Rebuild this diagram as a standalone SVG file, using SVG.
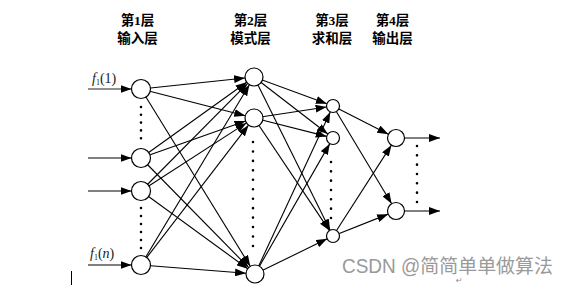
<svg xmlns="http://www.w3.org/2000/svg" width="568" height="286" viewBox="0 0 568 286">
<defs>
<marker id="ah" markerUnits="userSpaceOnUse" markerWidth="11" markerHeight="8" refX="11" refY="4" orient="auto">
<path d="M0,0 L11,4 L0,8 z" fill="#000"/>
</marker>
<style>
.hd{font-family:"Liberation Serif","Noto Sans CJK SC",serif;font-size:13.5px;font-weight:bold;fill:#000;text-anchor:middle}
.cn line{stroke:#000;stroke-width:1.1;marker-end:url(#ah)}
.nd{fill:#fff;stroke:#000;stroke-width:1.2}
.dots{stroke:#000;stroke-width:2.6;stroke-linecap:round}
.lbl{font-family:"Liberation Serif",serif;font-size:14px;fill:#1a1a1a}
</style>
</defs>
<rect width="568" height="286" fill="#fff"/>
<g id="headers">
<text class="hd" x="137.5" y="25">第1层</text>
<text class="hd" x="137.5" y="43">输入层</text>
<text class="hd" x="250.5" y="25">第2层</text>
<text class="hd" x="250.5" y="43">模式层</text>
<text class="hd" x="332" y="25">第3层</text>
<text class="hd" x="332" y="43">求和层</text>
<text class="hd" x="392.5" y="25">第4层</text>
<text class="hd" x="392.5" y="43">输出层</text>
</g>
<g id="connectors" class="cn">
<line x1="88" y1="89" x2="131.5" y2="89" style="stroke:#6a6a6a;stroke-width:1.6"/>
<line x1="88" y1="158" x2="131.5" y2="158"/>
<line x1="88" y1="191" x2="131.5" y2="191"/>
<line x1="88" y1="265" x2="131.5" y2="265"/>
<line x1="141" y1="89" x2="245.05" y2="77.95"/>
<line x1="141" y1="89" x2="245.28" y2="115.76"/>
<line x1="141" y1="89" x2="250.28" y2="266.34"/>
<line x1="141" y1="158" x2="246.68" y2="82.24"/>
<line x1="141" y1="158" x2="245.52" y2="121.0"/>
<line x1="141" y1="158" x2="248.69" y2="267.58"/>
<line x1="141" y1="191" x2="247.66" y2="83.39"/>
<line x1="141" y1="191" x2="246.44" y2="122.88"/>
<line x1="141" y1="191" x2="247.72" y2="268.70"/>
<line x1="141" y1="265" x2="249.36" y2="84.71"/>
<line x1="141" y1="265" x2="248.51" y2="125.14"/>
<line x1="141" y1="265" x2="246.03" y2="273.29"/>
<line x1="254" y1="77" x2="326.90" y2="103.76"/>
<line x1="254" y1="77" x2="327.86" y2="134.03"/>
<line x1="254" y1="77" x2="330.11" y2="230.18"/>
<line x1="254" y1="118" x2="326.57" y2="106.98"/>
<line x1="254" y1="118" x2="326.70" y2="136.40"/>
<line x1="254" y1="118" x2="329.38" y2="230.60"/>
<line x1="255" y1="274" x2="330.26" y2="111.90"/>
<line x1="255" y1="274" x2="329.77" y2="143.64"/>
<line x1="255" y1="274" x2="327.16" y2="238.85"/>
<line x1="333" y1="106" x2="388.42" y2="134.15"/>
<line x1="333" y1="106" x2="391.63" y2="203.71"/>
<line x1="333" y1="236" x2="391.40" y2="145.15"/>
<line x1="333" y1="236" x2="388.10" y2="214.13"/>
<line x1="404.5" y1="138" x2="440" y2="138"/>
<line x1="404.5" y1="211" x2="440" y2="211"/>
</g>
<g id="layer1">
<circle id="n1_1" class="nd" cx="141" cy="89" r="9.5"/>
<circle id="n1_2" class="nd" cx="141" cy="158" r="9.5"/>
<circle id="n1_3" class="nd" cx="141" cy="191" r="9.5"/>
<circle id="n1_4" class="nd" cx="141" cy="265" r="9.5"/>
</g>
<g id="layer2">
<circle id="n2_1" class="nd" cx="254" cy="77" r="9"/>
<circle id="n2_2" class="nd" cx="254" cy="118" r="9"/>
<circle id="n2_3" class="nd" cx="255" cy="274" r="9"/>
</g>
<g id="layer3">
<circle id="n3_1" class="nd" cx="333" cy="106" r="6.5"/>
<circle id="n3_2" class="nd" cx="333" cy="138" r="6.5"/>
<circle id="n3_3" class="nd" cx="333" cy="236" r="6.5"/>
</g>
<g id="layer4">
<circle id="n4_1" class="nd" cx="396" cy="138" r="8.5"/>
<circle id="n4_2" class="nd" cx="396" cy="211" r="8.5"/>
</g>
<g id="ellipsis">
<line class="dots" x1="141" y1="107" x2="141" y2="146" stroke-dasharray="0 7.8"/>
<line class="dots" x1="141" y1="208" x2="141" y2="256" stroke-dasharray="0 8"/>
<line class="dots" x1="253" y1="142" x2="253" y2="246" stroke-dasharray="0 9.45"/>
<line class="dots" x1="331" y1="162" x2="331" y2="218" stroke-dasharray="0 9.33"/>
<line class="dots" x1="417" y1="146" x2="417" y2="202" stroke-dasharray="0 9.33"/>
</g>
<g id="labels">
<text class="lbl" x="92" y="83"><tspan font-style="italic">f</tspan><tspan font-size="8" dy="2">1</tspan><tspan dy="-2">(1)</tspan></text>
<text class="lbl" x="90" y="258"><tspan font-style="italic">f</tspan><tspan font-size="8" dy="2">1</tspan><tspan dy="-2">(</tspan><tspan font-style="italic">n</tspan><tspan>)</tspan></text>
</g>
<line x1="71.5" y1="271" x2="71.5" y2="285" stroke="#000" stroke-width="1"/>
<text x="456" y="283" font-family="DejaVu Sans,sans-serif" font-size="8" fill="#888">↵</text>
<text x="342" y="273" font-family="Liberation Sans,'Noto Sans CJK SC',sans-serif" font-size="19.5" fill="#9a9a9a" textLength="211" lengthAdjust="spacingAndGlyphs">CSDN @简简单单做算法</text>
</svg>
